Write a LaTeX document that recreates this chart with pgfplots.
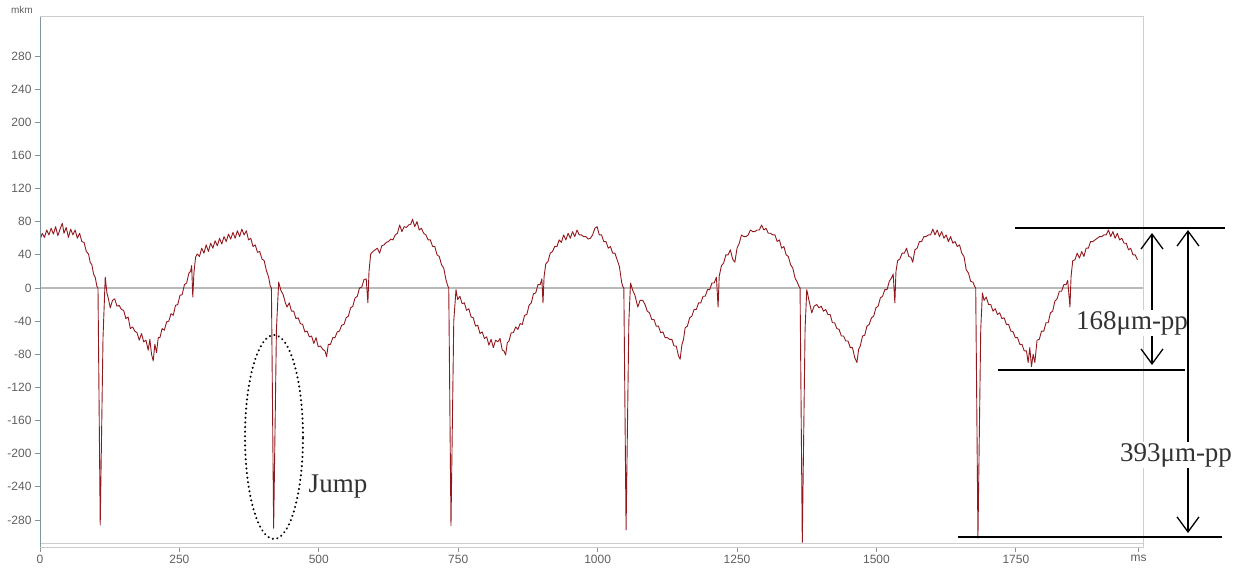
\documentclass[border=0pt]{standalone}
\usepackage{fontspec}
\setmainfont{Liberation Serif}
\newfontfamily\lsans{Liberation Sans}
\usepackage{pgfplots}
\pgfplotsset{compat=1.18}
\usetikzlibrary{arrows.meta}
\definecolor{sig}{RGB}{145,25,30}
\definecolor{tickc}{RGB}{95,95,95}
\definecolor{yax}{RGB}{125,150,160}
\definecolor{framec}{RGB}{205,205,205}
\begin{document}
\begin{tikzpicture}
\path[use as bounding box] (0,0) rectangle (1242pt,571pt);
\begin{axis}[
  at={(40pt,24pt)}, anchor=south west,
  scale only axis, width=1103pt, height=530pt,
  xmin=0, xmax=1978, ymin=-312.6, ymax=327,
  axis line style={draw=framec, line width=1pt},
  xtick={0,250,500,750,1000,1250,1500,1750,1970},
  xticklabels={0,250,500,750,1000,1250,1500,1750,ms},
  ytick={-280,-240,-200,-160,-120,-80,-40,0,40,80,120,160,200,240,280},
  tick align=outside, xtick pos=bottom, ytick pos=left,
  major tick length=5pt,
  tick style={draw=tickc!70, line width=0.8pt},
  ticklabel style={font=\lsans\fontsize{12}{12}\selectfont, text=tickc},
  /pgf/number format/assume math mode=true,
]
\addplot[gray!55, line width=1.6pt, forget plot] coordinates {(0,0) (1978,0)};
\addplot[framec, line width=0.8pt, forget plot] coordinates {(0,-307.8) (1978,-307.8)};
\addplot[sig, line width=0.9pt, line join=round] coordinates {
(0,58) (4,66) (8,61) (12,70) (16,64) (20,72) (24,65) (28,74) (32,63) (36,71) (40,78) (43,66) (47,73) (51,61) (55,71) (59,64) (63,70) (67,60) (71,66) (75,56) (79,55) (83,44) (87,41) (90,31) (93,28) (96,17) (99,13) (102,2)
(104,0) (108,-286) (113,-60) (117,13) (120,-6) (123,-14) (126,-24) (130,-15) (134,-13) (138,-22) (142,-21) (146,-26) (150,-27) (154,-37) (158,-35) (162,-49) (166,-47) (170,-52) (174,-54) (178,-63) (182,-55) (186,-65) (190,-63) (194,-75) (197,-62) (200,-80) (203,-88) (206,-68) (209,-78) (212,-60) (215,-60) (219,-49) (223,-51) (227,-41) (231,-40) (235,-31) (239,-33) (243,-21) (247,-20) (251,-9) (255,-8) (259,4) (263,6) (267,18) (270,20) (272,27) (274,-11) (276,18) (279,37) (282,41) (286,38) (290,48) (294,42) (298,52) (302,44) (306,54) (310,48) (314,57) (318,51) (322,60) (326,53) (330,62) (334,56) (338,65) (342,59) (346,67) (350,60) (354,69) (358,62) (362,71) (366,64) (370,69) (374,58) (378,60) (382,50) (386,52) (390,43) (394,44) (398,35) (402,33) (406,21) (410,13) (413,2)
(415,0) (419,-290) (424,-50) (428,7) (432,-3) (436,-8) (440,-18) (443,-23) (447,-18) (451,-28) (455,-28) (459,-37) (463,-36) (467,-43) (471,-44) (475,-53) (479,-52) (483,-59) (487,-58) (491,-67) (495,-60) (499,-71) (503,-70) (507,-74) (511,-76) (514,-83) (517,-68) (521,-68) (525,-60) (529,-60) (533,-53) (537,-52) (541,-45) (545,-44) (549,-36) (553,-34) (557,-24) (561,-22) (565,-12) (569,-10) (573,0) (577,1) (581,10) (585,11) (588,-18) (590,20) (593,41) (597,44) (601,46) (605,48) (609,42) (613,51) (617,52) (621,55) (625,56) (629,59) (633,58) (637,64) (641,66) (645,76) (649,68) (653,74) (657,73) (661,76) (665,77) (668,83) (672,74) (676,80) (680,70) (684,72) (688,66) (692,64) (696,58) (700,58) (704,50) (708,50) (712,40) (716,38) (720,28) (724,24) (728,10) (731,3)
(733,0) (737,-287) (742,-40) (746,-2) (749,-14) (753,-10) (757,-19) (761,-18) (765,-27) (769,-25) (773,-35) (777,-36) (781,-46) (785,-45) (789,-55) (793,-53) (797,-61) (801,-59) (805,-69) (809,-62) (813,-72) (817,-63) (821,-65) (825,-61) (829,-75) (832,-76) (835,-81) (838,-66) (841,-64) (845,-54) (849,-54) (853,-47) (857,-50) (861,-43) (865,-44) (869,-33) (873,-32) (877,-21) (881,-18) (885,-7) (889,-6) (893,4) (897,4) (900,11) (902,-18) (904,14) (907,29) (911,32) (915,42) (919,44) (923,50) (927,50) (931,58) (935,55) (939,64) (943,58) (947,66) (951,60) (955,68) (959,62) (963,70) (967,64) (971,64) (975,62) (979,62) (983,59) (987,60) (991,64) (995,72) (999,74) (1003,64) (1007,64) (1011,56) (1015,56) (1019,48) (1023,50) (1027,42) (1031,42) (1035,34) (1039,26) (1043,7) (1045,2)
(1047,0) (1051,-292) (1056,-40) (1059,6) (1063,-3) (1067,-9) (1072,-23) (1076,-15) (1081,-15) (1085,-20) (1089,-28) (1093,-30) (1097,-38) (1101,-38) (1105,-46) (1109,-46) (1113,-54) (1117,-53) (1121,-60) (1125,-60) (1129,-62) (1133,-62) (1137,-70) (1141,-70) (1145,-82) (1148,-86) (1151,-69) (1154,-62) (1157,-48) (1161,-46) (1165,-36) (1169,-34) (1173,-26) (1177,-26) (1181,-18) (1185,-18) (1189,-10) (1193,-10) (1197,-2) (1201,-2) (1205,6) (1209,6) (1213,13) (1216,-23) (1218,14) (1222,27) (1226,30) (1230,40) (1234,40) (1238,46) (1242,35) (1246,31) (1250,48) (1254,54) (1258,64) (1262,62) (1266,62) (1270,64) (1274,70) (1278,68) (1282,68) (1286,70) (1290,70) (1294,76) (1298,70) (1302,72) (1306,66) (1310,66) (1314,64) (1318,64) (1322,56) (1326,58) (1330,48) (1334,50) (1338,40) (1342,38) (1346,28) (1350,24) (1354,12) (1358,7) (1361,2)
(1363,0) (1367,-307) (1372,-50) (1375,-2) (1379,-15) (1384,-30) (1388,-22) (1393,-20) (1397,-24) (1401,-22) (1405,-28) (1409,-26) (1413,-32) (1417,-32) (1421,-42) (1425,-42) (1429,-49) (1433,-50) (1437,-58) (1441,-58) (1445,-64) (1449,-64) (1453,-72) (1457,-72) (1461,-84) (1465,-90) (1468,-74) (1471,-70) (1475,-58) (1479,-57) (1483,-46) (1487,-44) (1491,-36) (1495,-34) (1499,-24) (1503,-22) (1507,-12) (1511,-10) (1515,-2) (1519,-2) (1523,8) (1527,12) (1530,17) (1533,-18) (1535,20) (1538,33) (1542,35) (1546,42) (1550,42) (1554,48) (1558,38) (1562,37) (1565,31) (1569,46) (1573,48) (1577,56) (1581,56) (1585,62) (1589,62) (1593,64) (1597,64) (1601,71) (1605,64) (1609,70) (1613,62) (1617,68) (1621,60) (1625,64) (1629,56) (1633,62) (1637,54) (1641,56) (1645,50) (1649,52) (1653,42) (1657,38) (1661,22) (1665,18) (1669,8) (1673,7) (1676,2)
(1678,0) (1682,-302) (1687,-50) (1690,-6) (1693,-15) (1697,-11) (1701,-20) (1705,-20) (1709,-28) (1713,-25) (1717,-32) (1721,-30) (1725,-37) (1729,-36) (1733,-44) (1737,-44) (1741,-52) (1745,-53) (1749,-60) (1753,-60) (1757,-68) (1761,-68) (1765,-76) (1769,-76) (1772,-90) (1775,-72) (1778,-95) (1781,-80) (1784,-90) (1788,-63) (1792,-62) (1796,-52) (1800,-52) (1804,-42) (1808,-42) (1812,-30) (1816,-28) (1820,-16) (1824,-13) (1828,-4) (1832,-4) (1836,4) (1840,4) (1843,9) (1847,-23) (1849,14) (1852,33) (1856,34) (1860,42) (1864,36) (1868,44) (1872,38) (1876,48) (1880,48) (1884,56) (1888,56) (1892,58) (1896,60) (1900,62) (1904,62) (1908,64) (1912,64) (1916,70) (1920,62) (1924,68) (1928,60) (1932,66) (1936,58) (1940,60) (1944,54) (1948,54) (1952,46) (1956,48) (1960,40) (1964,40) (1968,34)
};
\draw[yax, line width=1pt] (rel axis cs:0,0) -- (rel axis cs:0,1);
\end{axis}
\node[font=\lsans\fontsize{10}{10}\selectfont, text=tickc] at (22pt,561pt) {mkm};
% annotations
\draw[line width=1.3pt] (1015pt,343pt) -- (1225pt,343pt);
\draw[line width=1.3pt] (998pt,201pt) -- (1185pt,201pt);
\draw[line width=1.3pt] (958pt,34pt) -- (1222pt,34pt);
\draw[line width=1.3pt, {Straight Barb[length=15pt,width=22pt]}-{Straight Barb[length=15pt,width=22pt]}] (1152pt,206pt) -- (1152pt,338pt);
\node[fill=white, inner sep=1pt, font=\fontsize{27}{27}\selectfont, text=black!80] at (1132pt,248pt) {168μm-pp};
\draw[line width=1.3pt, {Straight Barb[length=15pt,width=22pt]}-{Straight Barb[length=15pt,width=22pt]}] (1188pt,38pt) -- (1188pt,341pt);
\node[fill=white, inner sep=1pt, font=\fontsize{27}{27}\selectfont, text=black!80] at (1176pt,116pt) {393μm-pp};
\draw[line width=2.3pt, line cap=round, dash pattern=on 0.01pt off 4.6pt] (274pt,134pt) ellipse [x radius=29pt, y radius=102pt];
\node[font=\fontsize{27}{27}\selectfont, text=black!80] at (338pt,84pt) {Jump};
\end{tikzpicture}
\end{document}
